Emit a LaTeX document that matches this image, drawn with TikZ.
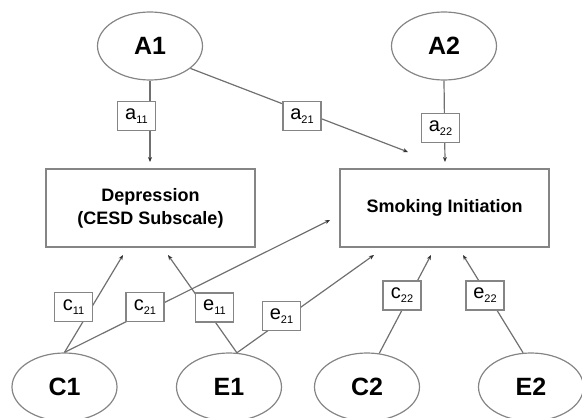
\documentclass[tikz,border=0pt]{standalone}
\usepackage{fontspec}
\setmainfont{Liberation Sans}
\usetikzlibrary{shapes.geometric,arrows.meta}
\definecolor{lc}{HTML}{707070}
\definecolor{bc}{HTML}{858585}
\newcommand{\plab}[2]{{\fontsize{20}{22}\selectfont #1}{\fontsize{11}{13}\selectfont\raisebox{-4pt}{#2}}}
\tikzset{
  latent/.style={ellipse, draw=bc, line width=1.2pt, minimum width=105pt, minimum height=68pt, inner sep=0pt, font=\fontsize{25}{30}\selectfont\bfseries},
  obs/.style={rectangle, draw=bc, line width=1.2pt, minimum width=209pt, minimum height=78pt, inner sep=0pt, align=center, font=\fontsize{18}{23}\selectfont\bfseries},
  pbox/.style={rectangle, draw=bc, fill=white, line width=1.2pt, minimum width=38pt, minimum height=29pt, inner sep=0pt},
  conn/.style={draw=lc, line width=1.2pt, -{Stealth[length=5pt,width=4pt,color=black!80,fill=black!80]}},
}
\begin{document}
\begin{tikzpicture}[x=1pt,y=-1pt]
\useasboundingbox (0,0) rectangle (582,418);
% latent variables
\node[latent] (A1) at (150,46) {A1};
\node[latent] (A2) at (444,46) {A2};
\node[latent] (C1) at (64.5,387) {C1};
\node[latent] (E1) at (229,387) {E1};
\node[latent] (C2) at (367,387) {C2};
\node[latent] (E2) at (531,387) {E2};
% observed
\node[obs] (Dep) at (150.5,208) {Depression\\(CESD Subscale)};
\node[obs] (Smk) at (444.5,208) {Smoking Initiation};
% arrow tips
\coordinate (tA11) at (150,162);
\coordinate (tA21) at (408,152);
\coordinate (tA22) at (445,162);
\coordinate (tC11) at (123,255);
\coordinate (tE11) at (168,255);
\coordinate (tC21) at (330,220);
\coordinate (tE21) at (374,255);
\coordinate (tC22) at (431,255);
\coordinate (tE22) at (463,255);
% connectors
\draw[conn] (A1.south) -- (tA11);
\draw[conn] (A1.-29) -- (tA21);
\draw[conn] (A2.south) -- (tA22);
\draw[conn] (C1.north) -- (tC11);
\draw[conn] (C1.north) -- (tC21);
\draw[conn] (E1.77) -- (tE11);
\draw[conn] (E1.77) -- (tE21);
\draw[conn] (C2.70) -- (tC22);
\draw[conn] (E2.103) -- (tE22);
% path coefficient boxes
\node[pbox] (a11) at (136.5,116) {\plab{a}{11}};
\node[pbox] (a21) at (302,116) {\plab{a}{21}};
\node[pbox] (a22) at (440.5,128) {\plab{a}{22}};
\node[pbox] (c11) at (73.5,307) {\plab{c}{11}};
\node[pbox] (c21) at (145,307) {\plab{c}{21}};
\node[pbox] (e11) at (214.5,307.5) {\plab{e}{11}};
\node[pbox] (e21) at (281.5,316) {\plab{e}{21}};
\node[pbox] (c22) at (402,295.5) {\plab{c}{22}};
\node[pbox] (e22) at (485,295.5) {\plab{e}{22}};
\end{tikzpicture}
\end{document}
